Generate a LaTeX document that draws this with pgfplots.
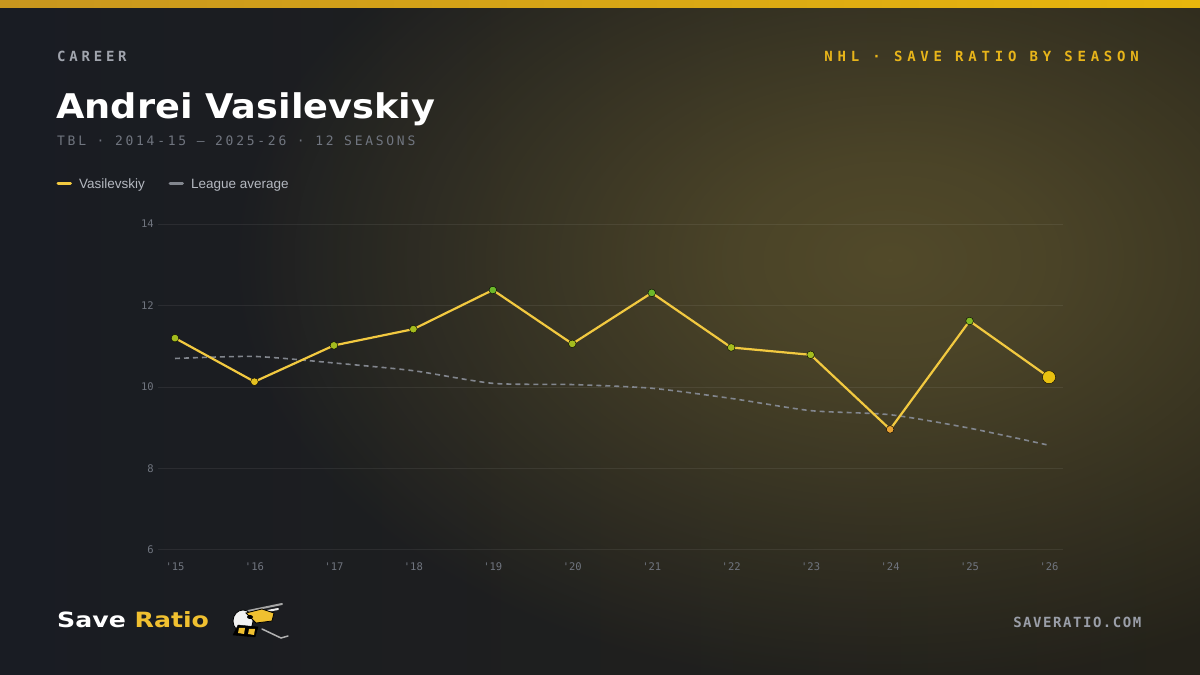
\documentclass[border=0pt]{standalone}
\usepackage{pgfplots}
\pgfplotsset{compat=1.18}
\usepackage{pgfplotstable}
\usepackage{fontspec}
\usetikzlibrary{fadings}
\setmainfont{Liberation Sans}
\setmonofont{DejaVu Sans Mono}
\newfontfamily\titlefont[FakeStretch=1.08]{DejaVu Sans}
\newfontfamily\footfont[FakeStretch=1.2]{DejaVu Sans}
\newfontfamily\hdrfont[LetterSpace=27]{DejaVu Sans Mono}
\newfontfamily\nhlfont[LetterSpace=34]{DejaVu Sans Mono}
\newfontfamily\subfont[LetterSpace=21]{DejaVu Sans Mono}
\newfontfamily\sitefont[LetterSpace=11]{DejaVu Sans Mono}

\definecolor{bgL}{HTML}{191C23}
\definecolor{bgR}{HTML}{24221A}
\definecolor{glowc}{HTML}{524A2A}
\definecolor{barL}{HTML}{C8961E}
\definecolor{barM}{HTML}{F4CE5A}
\definecolor{barR}{HTML}{E8B60C}
\definecolor{capgray}{HTML}{A0A4AD}
\definecolor{gold}{HTML}{E8B51A}
\definecolor{subgray}{HTML}{70757F}
\definecolor{leggray}{HTML}{B4B8C0}
\definecolor{ratiogold}{HTML}{F0C030}
\definecolor{sitegray}{HTML}{9A9EA8}
\definecolor{tickgray}{HTML}{70757F}
\definecolor{vline}{HTML}{F2C940}
\definecolor{lgline}{HTML}{82868E}
\definecolor{mA}{HTML}{A4BC1E}
\definecolor{mB}{HTML}{E4C020}
\definecolor{mG}{HTML}{6CB82A}
\definecolor{mG2}{HTML}{84BA24}
\definecolor{mO}{HTML}{E8A232}
\definecolor{mBig}{HTML}{E8C010}

\pgfdeclareradialshading{glowfade}{\pgfpoint{0bp}{0bp}}{color(0bp)=(pgftransparent!0); color(6bp)=(pgftransparent!15); color(16bp)=(pgftransparent!60); color(25bp)=(pgftransparent!100); color(50bp)=(pgftransparent!100)}
\pgfdeclarefading{glowfade}{\pgfuseshading{glowfade}}

\pgfplotstableread{
x y cls
0 11.20 a
1 10.13 b
2 11.02 a
3 11.42 a
4 12.38 g
5 11.06 a
6 12.31 g
7 10.97 a
8 10.79 a
9 8.96 o
10 11.62 h
11 10.24 z
}\vasil

\pgfplotstableread{
x y
0 10.70
1 10.75
2 10.59
3 10.40
4 10.09
5 10.06
6 9.97
7 9.72
8 9.42
9 9.32
10 8.99
11 8.57
}\league

\begin{document}
\begin{tikzpicture}
\begin{scope}[x=1pt,y=1pt]
\useasboundingbox (0,0) rectangle (1200,675);
\shade[left color=bgL, right color=bgR] (0,0) rectangle (1200,675);
\begin{scope}
\clip (0,0) rectangle (1200,675);
\fill[overlay, glowc, path fading=glowfade] (890,415) ellipse [x radius=660, y radius=430];
\end{scope}
\shade[left color=barL, middle color=barM, right color=barR] (0,667) rectangle (1200,675);

% header texts
\node[anchor=base west, inner sep=0pt, text=capgray] at (57,613.5) {\hdrfont\bfseries\fontsize{14}{16}\selectfont CAREER};
\node[anchor=base east, inner sep=0pt, text=gold] at (1139,613.5) {\nhlfont\bfseries\fontsize{14}{16}\selectfont NHL · SAVE RATIO BY SEASON};
\node[anchor=base west, inner sep=0pt, text=white] at (56,556.7) {\titlefont\bfseries\fontsize{34}{40}\selectfont Andrei Vasilevskiy};
\node[anchor=base west, inner sep=0pt, text=subgray] at (57,529) {\subfont\fontsize{13}{15}\selectfont TBL · 2014-15 – 2025-26 · 12 SEASONS};

% legend
\draw[vline, line width=3pt, line cap=round] (58,491.3) -- (70.5,491.3);
\node[anchor=base west, inner sep=0pt, text=leggray] at (79,486.3) {\fontsize{13.5}{15}\selectfont Vasilevskiy};
\draw[lgline, line width=3pt, line cap=round] (170,491.3) -- (182.5,491.3);
\node[anchor=base west, inner sep=0pt, text=leggray] at (191,486.3) {\fontsize{13.5}{15}\selectfont League average};

% footer
\node[anchor=base west, inner sep=0pt] at (57,47.3) {\footfont\bfseries\fontsize{21}{24}\selectfont\textcolor{white}{Save} \textcolor{ratiogold}{Ratio}};
\node[anchor=base east, inner sep=0pt, text=sitegray] at (1141.5,47.7) {\sitefont\bfseries\fontsize{14}{16}\selectfont SAVERATIO.COM};

% logo (rough mascot)
\draw[gray!70, line width=2pt, line cap=round] (248,64) -- (282,71);
\draw[white!85!gray, line width=2pt, line cap=round] (246,60) -- (278,66);
\draw[gray!60, line width=1.5pt, line cap=round] (262,46) -- (281,37) -- (288,39);
\fill[white!90!gray, draw=black, line width=0.8pt] (243,54) ellipse [x radius=10, y radius=11];
\fill[ratiogold, draw=black, line width=0.8pt] (246,62) -- (262,66) -- (274,62) -- (272,54) -- (256,52) -- cycle;
\fill[black] (250,58) ellipse [x radius=3, y radius=2];
\fill[black, draw=black] (233,40) -- (255,38) -- (258,48) -- (238,50) -- cycle;
\fill[ratiogold] (238,42) -- (244,41) -- (245,47) -- (239,47) -- cycle;
\fill[ratiogold] (248,41) -- (254,40) -- (255,46) -- (249,46) -- cycle;
\end{scope}

\begin{axis}[
  at={(158pt,125pt)}, anchor=south west,
  scale only axis, width=905pt, height=326pt,
  xmin=-0.214, xmax=11.176, ymin=6, ymax=14,
  axis line style={draw=none},
  major tick length=0pt,
  xtick={0,...,11},
  xticklabels={'15,'16,'17,'18,'19,'20,'21,'22,'23,'24,'25,'26},
  ytick={6,8,10,12,14},
  yticklabels={6,8,10,12,14},
  ymajorgrids,
  grid style={white, opacity=0.07, line width=1pt},
  xticklabel style={anchor=north, inner sep=0pt, yshift=-13pt, text=tickgray, font=\ttfamily\fontsize{10.5}{12}\selectfont},
  yticklabel style={anchor=east, inner sep=0pt, xshift=-4pt, text=tickgray, font=\ttfamily\fontsize{10.5}{12}\selectfont},
  clip=false,
]
\addplot[lgline, line width=1.6pt, dash pattern=on 5pt off 4pt, smooth, tension=0.4, mark=none] table[x=x,y=y] {\league};
\addplot[vline, line width=2.2pt, mark=none] table[x=x,y=y] {\vasil};
\addplot[only marks, scatter, point meta=explicit symbolic,
  scatter/classes={
    a={mark=*, mark size=3.8pt, fill=mA, draw=none},
    b={mark=*, mark size=3.8pt, fill=mB, draw=none},
    g={mark=*, mark size=3.8pt, fill=mG, draw=none},
    h={mark=*, mark size=3.8pt, fill=mG2, draw=none},
    o={mark=*, mark size=3.8pt, fill=mO, draw=none},
    z={mark=*, mark size=6.5pt, fill=mBig, draw=none}}
] table[x=x,y=y,meta=cls] {\vasil};
\end{axis}
\end{tikzpicture}
\end{document}
